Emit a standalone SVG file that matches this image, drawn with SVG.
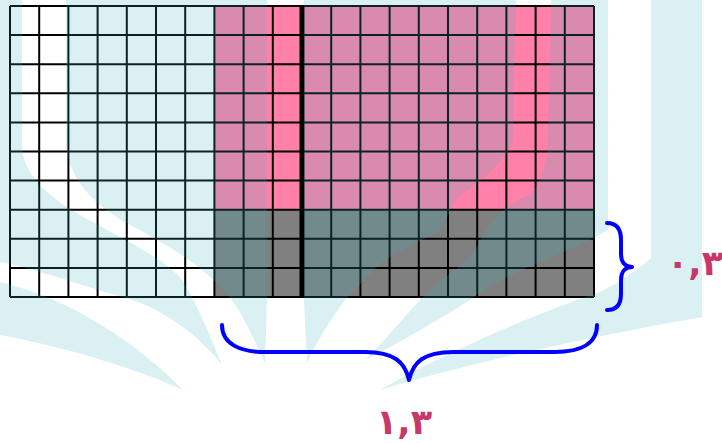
<svg xmlns="http://www.w3.org/2000/svg" width="722" height="443" viewBox="0 0 722 443">
<style>
.gl{fill:none;stroke:#000;stroke-width:2}
.brace{fill:none;stroke:#0000ff;stroke-width:4;stroke-linecap:round;stroke-linejoin:round}
.lbl{font-family:"DejaVu Sans",sans-serif;font-weight:bold;font-size:35px;fill:#c73869;letter-spacing:1px}
</style>
<rect width="722" height="443" fill="#fff"/>
<g id="grid">
<rect x="214.4" y="6" width="379.6" height="203.7" fill="#ff80a8"/>
<rect x="214.4" y="209.7" width="379.6" height="87.3" fill="#808080"/>
<path class="gl" d="M10,6V297M39.2,6V297M68.4,6V297M97.6,6V297M126.8,6V297M156,6V297M185.2,6V297M214.4,6V297M243.6,6V297M272.8,6V297M331.2,6V297M360.4,6V297M389.6,6V297M418.8,6V297M448,6V297M477.2,6V297M506.4,6V297M535.6,6V297M564.8,6V297M594,6V297"/>
<path class="gl" d="M10,6H594M10,35.1H594M10,64.2H594M10,93.3H594M10,122.4H594M10,151.5H594M10,180.6H594M10,209.7H594M10,238.8H594M10,267.9H594M10,297H594"/>
<path d="M302,5V298" stroke="#000" stroke-width="5"/>
</g>
<g id="watermark" fill="#3eb5c5" opacity="0.19">
<path d="M0,282 C70,298 140,345 183,390 C140,370 70,348 0,335 Z"/>
<path d="M0,0 L22,0 L22,150 C26,175 45,195 80,215 C120,238 165,258 182,280 C195,300 210,335 222,365 C195,330 155,305 122,297 C80,285 40,270 0,262 Z"/>
<path d="M66,0 L267,0 L267,300 L265,363 C250,330 238,305 225,292 C205,270 185,255 140,230 C100,210 70,185 66,145 Z"/>
<path d="M304,0 L516,0 L513,140 C508,160 480,182 460,195 C450,205 448,220 440,230 C420,242 395,252 380,264 C368,275 360,285 345,300 C330,320 315,345 307,363 L304,300 Z"/>
<path d="M551,0 L608,0 L608,230 C590,240 570,250 540,262 C510,275 490,285 470,300 C430,325 395,345 365,360 C390,335 410,310 425,295 C445,275 470,262 478,245 C485,230 500,205 530,195 C540,185 548,160 548,140 Z"/>
<path d="M651,0 L702,0 L702,317 C600,335 480,360 380,390 C450,350 540,312 600,292 C620,282 640,268 651,258 Z"/>
</g>
<g id="braces">
<path class="brace" d="M607,223 C617,223 621,230 621,240 L621,254 C621,262 625,267 632,267 C625,267 621,272 621,280 L621,294 C621,304 617,310 607,310"/>
<path class="brace" d="M222,325 C222,344 240,352 265,352 L365,352 C394,352 405,362 409,380 C413,362 424,352 453,352 L555,352 C580,352 597,344 597,325"/>
</g>
<g id="label-right"><text class="lbl" x="695" y="275" text-anchor="middle">٠,٣</text></g>
<g id="label-bottom"><text class="lbl" x="404" y="434" text-anchor="middle">١,٣</text></g>
</svg>
